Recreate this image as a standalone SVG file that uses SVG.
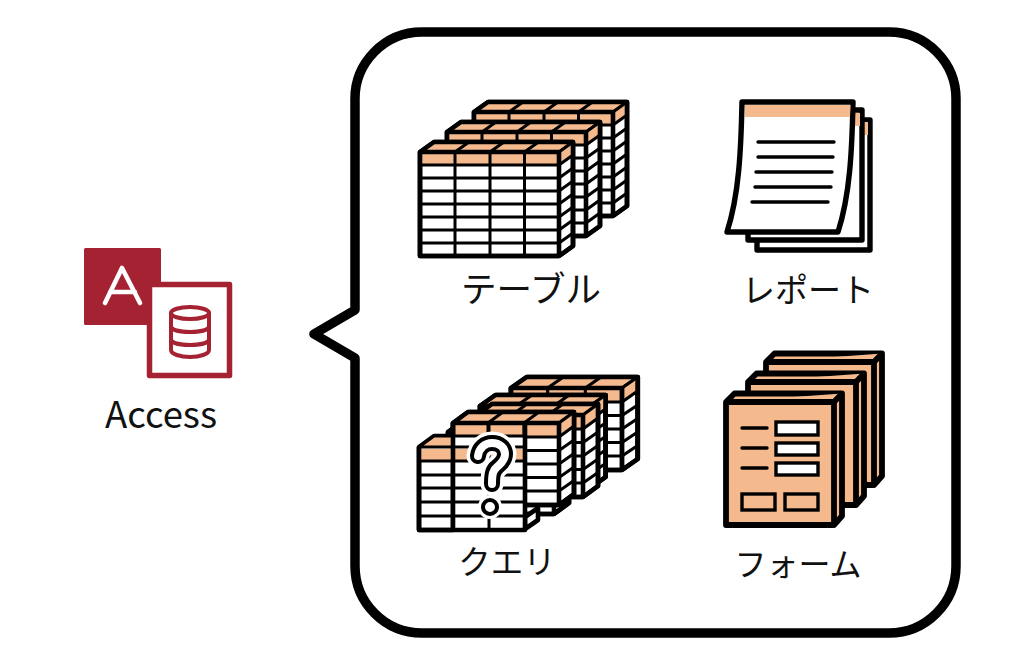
<svg xmlns="http://www.w3.org/2000/svg" width="1024" height="665" viewBox="0 0 1024 665">
<style>
.l{fill:none;stroke:#000;stroke-width:3;stroke-linecap:round;stroke-linejoin:round}
.o{fill:#f4b98d;stroke:#000;stroke-width:3;stroke-linejoin:round}
.w{fill:#fff;stroke:#000;stroke-width:4.600;stroke-linejoin:round}
.e{fill:none;stroke:#000;stroke-width:4.600;stroke-linejoin:round}
.f{fill:#f4b98d;stroke:#000;stroke-width:5.800;stroke-linejoin:round}
.fo{fill:#f4b98d;stroke:none}
.p{fill:#fff;stroke:#000;stroke-width:5.400;stroke-linejoin:round}
.r{fill:none;stroke:#a52232;stroke-width:4;stroke-linecap:round;stroke-linejoin:round}
text{font-family:"Noto Sans CJK JP","Noto Sans",sans-serif;font-size:34px;font-weight:400;fill:#111;text-anchor:middle}
</style>
<defs>
<g id="t4">
<path class="w" d="M0 0L14-10H153V94L139 104H0Z"/>
<path class="o" d="M0 0L14-10H153L139 0ZM35 0L49-10M70 0L84-10M104.500 0L118.500-10"/>
<path class="o" d="M139 0L153-10V3L139 13Z"/>
<rect class="fo" x="2" y="2" width="135" height="10"/>
<path class="l" d="M0 13H139M0 26H139M0 39H139M0 52H139M0 65H139M0 78H139M0 91H139M35 0V104M70 0V104M104.500 0V104M139 26L153 16M139 39L153 29M139 52L153 42M139 65L153 55M139 78L153 68M139 91L153 81"/>
<path class="e" d="M0 0L14-10H153V94L139 104H0ZM0 0H139V104"/>
</g>
<g id="t3">
<path class="w" d="M0 0L15-11H121V71L106 82H0Z"/>
<path class="o" d="M0 0L15-11H121L106 0ZM35 0L50-11M71 0L86-11"/>
<path class="o" d="M106 0L121-11V3L106 14Z"/>
<rect class="fo" x="2" y="2" width="102" height="11"/>
<path class="l" d="M0 14H106M0 27.500H106M0 41H106M0 54.500H106M0 68H106M35 0V82M71 0V82M106 27.500L121 17M106 41L121 30.500M106 54.500L121 44M106 68L121 57.500"/>
<path class="e" d="M0 0L15-11H121V71L106 82H0ZM0 0H106V82"/>
</g>
<g id="form">
<path class="f" d="M0 0L8.500-8.500H116V114L108 123H0Z"/>
<path class="f" d="M0 0H108L116-8.500M108 0V123"/>
</g>
<path id="qm" d="M478 456C479 448 485 443 492 443C500 443 505 448 505 454C505 461 500 464 497 467C493 470 492 474 492 484"/>
</defs>

<g id="callout">
<path d="M355 310V100A67 67 0 0 1 422 32H889A67 67 0 0 1 956 100V566A67 67 0 0 1 889 633H422A67 67 0 0 1 355 566V358L314 334Z" fill="#fff" stroke="#000" stroke-width="9.500" stroke-linejoin="round"/>
</g>

<g id="access">
<rect x="84" y="248" width="77" height="77" rx="1.500" fill="#a52232"/>
<rect x="149.500" y="284.500" width="80" height="91" fill="#fff" stroke="#a52232" stroke-width="5.500" stroke-linejoin="round"/>
<path d="M105 303L122 268L140 303M110 292H135" fill="none" stroke="#fff" stroke-width="4.600" stroke-linecap="round" stroke-linejoin="round"/>
<g class="r">
<ellipse cx="190" cy="313" rx="19" ry="6"/>
<path d="M171 313V350C171 354 180 357 190 357S209 354 209 350V313M171 326C171 330 180 332 190 332S209 330 209 326M171 339C171 343 180 345 190 345S209 343 209 339"/>
</g>
<text x="161" y="428" style="font-size:36.500px">Access</text>
</g>

<g id="table-node">
<use href="#t4" x="474" y="112"/>
<use href="#t4" x="447" y="132"/>
<use href="#t4" x="420" y="152"/>
<text x="531" y="302" style="font-size:35.500px">テーブル</text>
</g>

<g id="report-node">
<path class="p" d="M758 120H870V250H757V235L758 120Z"/>
<path class="fo" d="M858 122H868V135H858Z"/>
<path class="p" d="M750 110H862V240H748V225L750 110Z"/>
<path class="fo" d="M851 113H860V126H851Z"/>
<path class="p" d="M742 102H853C852 150 850 195 838 232H727C739 195 741 150 742 102Z"/>
<path class="fo" d="M745 105H850.500L850 117H745Z"/>
<path d="M758 142H834M758 157H833M756 172H832M755 187H831M752 202H828" fill="none" stroke="#000" stroke-width="3.400" stroke-linecap="round"/>
<text x="808" y="302" style="font-size:33px">レポート</text>
</g>

<g id="query-node">
<use href="#t3" transform="translate(511 388) scale(1.047 1)"/>
<use href="#t3" transform="translate(480 406) scale(1.038 1)"/>
<use href="#t3" x="477" y="415"/>
<use href="#t3" x="448" y="432"/>
<use href="#t3" x="453" y="423"/>
<path class="w" d="M525 517L538 508V520L525 529Z"/>
<g id="front-table">
<path class="w" d="M419 447L434 436H453V530H419Z"/>
<rect x="455" y="437" width="68" height="93" fill="#fff"/>
<path class="o" d="M419 447L434 436H453V447Z"/>
<rect class="fo" x="421" y="449" width="104" height="11"/>
<path class="l" d="M419 461H525M419 475H525M419 488H525M419 502H525M419 516H525M454 447H525M489 423V530M454 436H525"/>
<path class="e" d="M419 447V530H525V423M453 423V530"/>
</g>
<use href="#qm" fill="none" stroke="#fff" stroke-width="23" stroke-linecap="round"/>
<circle cx="490" cy="507" r="12" fill="#fff"/>
<use href="#qm" fill="none" stroke="#000" stroke-width="16" stroke-linecap="round"/>
<use href="#qm" fill="none" stroke="#fff" stroke-width="8" stroke-linecap="round"/>
<circle cx="490" cy="507" r="7" fill="#fff" stroke="#000" stroke-width="4"/>
<text x="507" y="574" style="font-size:32.500px">クエリ</text>
</g>

<g id="form-node">
<use href="#form" x="766" y="362"/>
<use href="#form" x="748" y="382"/>
<use href="#form" x="726" y="402"/>
<path d="M742 428H767M742 448H767M742 468H767" fill="none" stroke="#000" stroke-width="3.400" stroke-linecap="round"/>
<g fill="#fff" stroke="#000" stroke-width="3.400">
<rect x="776" y="422" width="42" height="13"/>
<rect x="776" y="443" width="42" height="12"/>
<rect x="776" y="463" width="42" height="12"/>
</g>
<g fill="#f4b98d" stroke="#000" stroke-width="3.400">
<rect x="742" y="494" width="33" height="16"/>
<rect x="785" y="494" width="33" height="16"/>
</g>
<text x="798" y="576" style="font-size:32px">フォーム</text>
</g>
</svg>
